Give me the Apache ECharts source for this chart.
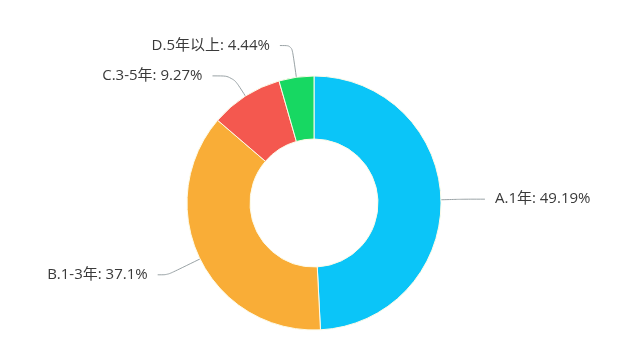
<!DOCTYPE html>
<html>
<head>
<meta charset="utf-8">
<script src="https://cdn.jsdelivr.net/npm/echarts@6/dist/echarts.min.js"></script>
<style>html,body{margin:0;padding:0;background:#fff;}#c{width:640px;height:364px;}</style>
</head>
<body>
<div id="c"></div>
<script>
const categories = ['A.1年', 'B.1-3年', 'C.3-5年', 'D.5年以上'];
const values = [49.19, 37.1, 9.27, 4.44];
const colors = ['#0bc5f8', '#f9ad37', '#f4584f', '#17d862'];
const lineLen = [24, 36, 24, 32];
const lineLen2 = [20, 10, 20, 12];

const chart = echarts.init(document.getElementById('c'));
chart.setOption({
  backgroundColor: '#fff',
  animation: false,
  color: colors,
  series: [{
    type: 'pie',
    center: [314, 203],
    radius: [64, 127],
    startAngle: 90,
    clockwise: true,
    itemStyle: { borderColor: '#fdfbe8', borderWidth: 1 },
    label: {
      formatter: p => p.name + ': ' + p.value + '%',
      color: '#3a3a3a',
      fontSize: 15,
      fontFamily: 'Open Sans, Noto Sans CJK SC',
      distanceToLabelLine: 10
    },
    labelLine: {
      smooth: 0.3,
      lineStyle: { color: '#9aa3a6', width: 1 }
    },
    data: categories.map((n, i) => ({
      name: n, value: values[i],
      labelLine: { length: lineLen[i], length2: lineLen2[i] }
    }))
  }]
});
</script>
</body>
</html>
